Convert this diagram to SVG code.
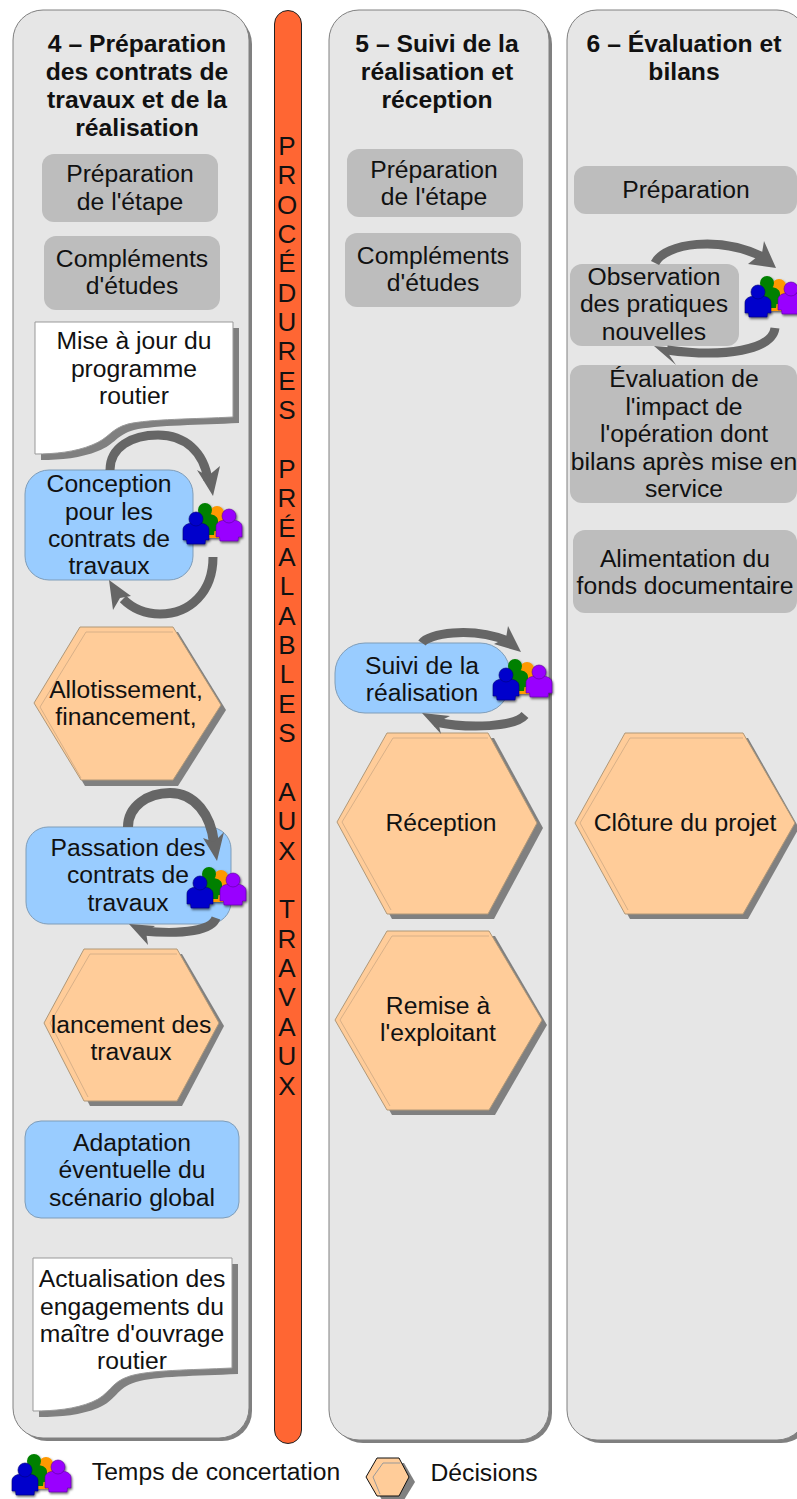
<svg xmlns="http://www.w3.org/2000/svg" width="797" height="1499" viewBox="0 0 797 1499">
<style>
text{font-family:"Liberation Sans",Arial,sans-serif;font-size:24.7px;fill:#111;text-anchor:middle}
.h{font-weight:bold}
.col{fill:#e6e6e6;stroke:#808080;stroke-width:1}
.sh{fill:#808080}
.grey{fill:#bdbdbd}
.blue{fill:#99ccff;stroke:#7f9db9;stroke-width:1}
.hex{fill:#ffcc99;stroke:#b09878;stroke-width:1}
.in{fill:none;stroke:#d8b088;stroke-width:1}
.doc{fill:#fff;stroke:#999;stroke-width:1}
.arc{fill:none;stroke:#666;stroke-width:9}
.head{fill:#666}
.ltr{font-size:26px}
</style>
<defs>
<filter id="ds" x="-10%" y="-10%" width="125%" height="125%"><feDropShadow dx="1" dy="1.500" stdDeviation=".8" flood-color="#000" flood-opacity=".6"/></filter>
<path id="body" d="M-5,4 C-10,5 -13,7 -13,11 L-13,21 L-9.500,21 L-9,25 L9,25 L9.500,21 L13,21 L13,11 C13,7 10,5 5,4 Z"/>
<g id="people" filter="url(#ds)">
<g transform="translate(33,8)" fill="#ff9900"><use href="#body"/><circle r="7"/></g>
<g transform="translate(21,5)" fill="#008000"><use href="#body"/><circle r="7"/></g>
<g transform="translate(45,11)" fill="#9900ff" stroke="#5c0099" stroke-width=".6"><use href="#body"/><circle r="7"/></g>
<g transform="translate(12,14)" fill="#0000cc" stroke="#00007a" stroke-width=".6"><use href="#body"/><circle r="7"/></g>
</g>
</defs>

<g id="column-4">
<rect class="sh" x="17" y="14" width="235" height="1427" rx="30"/>
<rect class="col" x="13" y="10" width="236" height="1428" rx="30"/>
<g class="h"><text x="137" y="52">4 – Préparation</text><text x="137" y="80">des contrats de</text><text x="137" y="108">travaux et de la</text><text x="137" y="136">réalisation</text></g>
</g>
<g id="bar">
<rect x="274.500" y="10.500" width="27" height="1433" rx="13.500" fill="#ff6633" stroke="#222" stroke-width="1"/>
<g class="ltr">
<text class="ltr" x="287" y="155">P</text><text class="ltr" x="287" y="184">R</text><text class="ltr" x="287" y="213.600">O</text><text class="ltr" x="287" y="243">C</text><text class="ltr" x="287" y="272">É</text><text class="ltr" x="287" y="301.500">D</text><text class="ltr" x="287" y="331">U</text><text class="ltr" x="287" y="360">R</text><text class="ltr" x="287" y="389.500">E</text><text class="ltr" x="287" y="419">S</text><text class="ltr" x="287" y="478">P</text><text class="ltr" x="287" y="507">R</text><text class="ltr" x="287" y="536.500">É</text><text class="ltr" x="287" y="566">A</text><text class="ltr" x="287" y="595">L</text><text class="ltr" x="287" y="624.500">A</text><text class="ltr" x="287" y="654">B</text><text class="ltr" x="287" y="683">L</text><text class="ltr" x="287" y="712.500">E</text><text class="ltr" x="287" y="742">S</text><text class="ltr" x="287" y="801">A</text><text class="ltr" x="287" y="830">U</text><text class="ltr" x="287" y="859.500">X</text><text class="ltr" x="287" y="918">T</text><text class="ltr" x="287" y="948">R</text><text class="ltr" x="287" y="977">A</text><text class="ltr" x="287" y="1006">V</text><text class="ltr" x="287" y="1036">A</text><text class="ltr" x="287" y="1065">U</text><text class="ltr" x="287" y="1094.600">X</text>
</g>
</g>
<g id="column-5">
<rect class="sh" x="333" y="14" width="219" height="1429" rx="30"/>
<rect class="col" x="329" y="10" width="220" height="1430" rx="30"/>
<g class="h"><text x="437" y="52">5 – Suivi de la</text><text x="437" y="80">réalisation et</text><text x="437" y="108">réception</text></g>
</g>
<g id="column-6">
<rect class="sh" x="571" y="14" width="240" height="1429" rx="30"/>
<rect class="col" x="567" y="10" width="240" height="1430" rx="30"/>
<g class="h"><text x="684" y="52">6 – Évaluation et</text><text x="684" y="80">bilans</text></g>
</g>

<g id="prep-4"><rect class="grey" x="42" y="154" width="176" height="68" rx="12"/><text x="130" y="182">Préparation</text><text x="130" y="210">de l'étape</text></g>
<g id="comp-4"><rect class="grey" x="44" y="236" width="176" height="74" rx="12"/><text x="132" y="267">Compléments</text><text x="132" y="294">d'études</text></g>
<g id="maj">
<path class="sh" d="M41,328 H239 V423 C201,425 156,425 134,430 C116,435 116,444 98,451 C81,458 61,460 41,460 Z"/>
<path class="doc" d="M35,322 H233 V417 C195,419 150,419 128,424 C110,429 110,438 92,445 C75,452 55,454 35,454 Z"/>
<text x="134" y="349">Mise à jour du</text><text x="134" y="377">programme</text><text x="134" y="404">routier</text>
</g>
<g id="conception"><rect class="blue" x="25" y="470" width="168" height="110" rx="24"/><text x="109" y="492">Conception</text><text x="109" y="520">pour les</text><text x="109" y="547">contrats de</text><text x="109" y="574">travaux</text></g>
<g id="allot">
<polygon class="sh" points="85,632 178,632 226,710 178,786 85,786 40,710"/>
<polygon class="hex" points="80,627 173,627 221,705 173,780 81,780 34,703"/>
<polyline class="in" points="173,632 86,632 40,707 81,778"/>
<text x="126" y="698">Allotissement,</text><text x="126" y="725">financement,</text>
</g>
<g id="passation"><rect class="blue" x="26" y="827" width="205" height="97" rx="22"/><text x="128" y="856">Passation des</text><text x="128" y="883">contrats de</text><text x="128" y="911">travaux</text></g>
<g id="lancement">
<polygon class="sh" points="90,954 182,954 224,1026 182,1106 90,1106 50,1026"/>
<polygon class="hex" points="84,949 177,949 219,1023 177,1101 84,1101 44,1023"/>
<polyline class="in" points="177,954 90,954 50,1023 88,1097"/>
<text x="131" y="1033">lancement des</text><text x="131" y="1060">travaux</text>
</g>
<g id="adapt"><rect class="blue" x="25" y="1121" width="214" height="97" rx="16"/><text x="132" y="1151">Adaptation</text><text x="132" y="1178">éventuelle du</text><text x="132" y="1206">scénario global</text></g>
<g id="actual">
<path class="sh" d="M39,1264 H238 V1374 C196,1376 156,1376 136,1382 C116,1388 116,1401 98,1408 C81,1415 61,1417 39,1417 Z"/>
<path class="doc" d="M33,1258 H232 V1368 C190,1370 150,1370 130,1376 C110,1382 110,1395 92,1402 C75,1409 55,1411 33,1411 Z"/>
<text x="132" y="1287">Actualisation des</text><text x="132" y="1315">engagements du</text><text x="132" y="1342">maître d'ouvrage</text><text x="132" y="1369">routier</text>
</g>

<g id="prep-5"><rect class="grey" x="347" y="149" width="176" height="68" rx="12"/><text x="434" y="178">Préparation</text><text x="434" y="205">de l'étape</text></g>
<g id="comp-5"><rect class="grey" x="345" y="233" width="176" height="74" rx="12"/><text x="433" y="264">Compléments</text><text x="433" y="291">d'études</text></g>
<g id="suivi"><rect class="blue" x="335" y="643" width="175" height="70" rx="30"/><text x="422" y="674">Suivi de la</text><text x="422" y="701">réalisation</text></g>
<g id="reception">
<polygon class="sh" points="392,738 494,738 543,828 494,919 392,919 343,828"/>
<polygon class="hex" points="387,733 488,733 537,823 488,914 387,914 337,822"/>
<polyline class="in" points="488,738 393,738 342,822 391,910"/>
<text x="441" y="831">Réception</text>
</g>
<g id="remise">
<polygon class="sh" points="392,936 495,936 547,1025 495,1115 392,1115 341,1025"/>
<polygon class="hex" points="387,931 489,931 542,1020 489,1110 387,1110 335,1020"/>
<polyline class="in" points="489,936 392,936 340,1020 390,1106"/>
<text x="438" y="1014">Remise à</text><text x="438" y="1041">l'exploitant</text>
</g>

<g id="prep-6"><rect class="grey" x="574" y="166" width="223" height="48" rx="12"/><text x="686" y="198">Préparation</text></g>
<g id="observation"><rect class="grey" x="570" y="264" width="169" height="82" rx="12"/><text x="654" y="285">Observation</text><text x="654" y="312">des pratiques</text><text x="654" y="340">nouvelles</text></g>
<g id="evaluation"><rect class="grey" x="570" y="365" width="227" height="138" rx="12"/><text x="684" y="387">Évaluation de</text><text x="684" y="415">l'impact de</text><text x="684" y="442">l'opération dont</text><text x="684" y="470">bilans après mise en</text><text x="684" y="497">service</text></g>
<g id="alim"><rect class="grey" x="573" y="530" width="224" height="83" rx="12"/><text x="685" y="567">Alimentation du</text><text x="685" y="594">fonds documentaire</text></g>
<g id="cloture">
<polygon class="sh" points="630,738 748,738 799,828 748,919 630,919 580,828"/>
<polygon class="hex" points="625,733 743,733 795,823 743,914 625,914 575,823"/>
<polyline class="in" points="743,738 630,738 580,823 628,910"/>
<text x="685" y="831">Clôture du projet</text>
</g>

<g id="connectors">
<path class="arc" d="M110,470 C110,447 132,435 158,435 C185,435 204,452 208,480"/>
<polygon class="head" points="213,496 197,470 208,476 220,466"/>
<path class="arc" d="M213,557 C213,592 190,614 160,614 C145,614 132,608 123,599"/>
<polygon class="head" points="109,580 131,596 120,598 113,610"/>
<path class="arc" style="stroke-width:10" d="M128,827 C128,806 148,793 170,793 C195,793 211,815 214,843"/>
<polygon class="head" points="217,861 203,838 214,842 224,832"/>
<path class="arc" d="M216,918 C212,930 185,935 142,931"/>
<polygon class="head" points="129,924 155,926 146,932 148,945"/>
<path class="arc" d="M422,643 C428,634 470,626 508,641"/>
<polygon class="head" points="521,652 508,626 506,638 494,644"/>
<path class="arc" d="M525,715 C515,727 470,729 435,722"/>
<polygon class="head" points="422,713 450,716 438,722 441,734"/>
<path class="arc" d="M655,263 C665,243 720,235 765,258"/>
<polygon class="head" points="776,268 764,241 762,253 748,264"/>
<path class="arc" d="M775,328 C772,350 725,358 667,350"/>
<polygon class="head" points="654,346 678,348 668,353 676,365"/>
</g>

<g id="people-icons">
<use href="#people" x="184" y="505"/>
<use href="#people" x="188" y="869"/>
<use href="#people" x="494" y="661"/>
<use href="#people" x="746" y="278"/>
</g>

<g id="legend">
<use href="#people" x="13" y="1456"/>
<text x="216" y="1480">Temps de concertation</text>
<polygon class="sh" points="382,1463 404,1463 415,1482 404,1500 382,1500 372,1482"/>
<polygon points="377,1458 399,1458 409,1477 399,1496 377,1496 366,1477" fill="#ffcc99" stroke="#111" stroke-width="1"/>
<polyline class="in" points="400,1463 383,1463 373,1477 380,1494" style="stroke:#999"/>
<text x="484" y="1481">Décisions</text>
</g>
</svg>
